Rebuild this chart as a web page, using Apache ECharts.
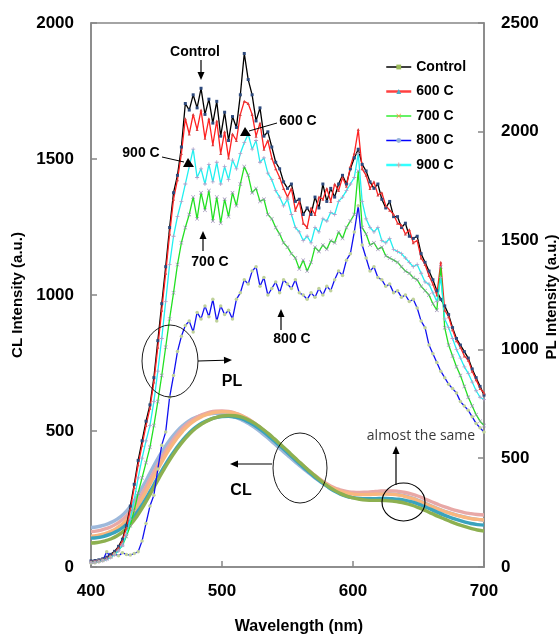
<!DOCTYPE html>
<html>
<head>
<meta charset="utf-8">
<script src="https://cdn.jsdelivr.net/npm/echarts@6/dist/echarts.min.js"></script>
<style>
html, body { margin: 0; padding: 0; background: #fff; }
#chart1 { width: 560px; height: 634px; }
</style>
</head>
<body>
<div id="chart1"></div>
<script>
// PL spectra (right axis), sampled every 3 nm
const plWave = [400, 403, 406, 409, 412, 415, 418, 421, 424, 427,
  430, 433, 436, 439, 442, 445, 448, 451, 454, 457,
  460, 463, 466, 469, 472, 475, 478, 481, 484, 487,
  490, 493, 496, 499, 502, 505, 508, 511, 514, 517,
  520, 523, 526, 529, 532, 535, 538, 541, 544, 547,
  550, 553, 556, 559, 562, 565, 568, 571, 574, 577,
  580, 583, 586, 589, 592, 595, 598, 601, 604, 607,
  610, 613, 616, 619, 622, 625, 628, 631, 634, 637,
  640, 643, 646, 649, 652, 655, 658, 661, 664, 667,
  670, 673, 676, 679, 682, 685, 688, 691, 694, 697,
  700];

const plControl = [28, 30, 33, 38, 45, 58, 72, 95, 128, 190,
  280, 380, 490, 580, 670, 745, 870, 1040, 1210, 1380,
  1560, 1720, 1800, 1930, 2130, 2100, 2170, 2110, 2200, 2080,
  2150, 2040, 2140, 1980, 2090, 1960, 2070, 2020, 2170, 2360,
  2240, 2170, 2050, 2110, 1980, 2000, 1930, 1860, 1830, 1770,
  1740, 1760, 1680, 1690, 1620, 1650, 1620, 1700, 1650, 1760,
  1680, 1740, 1700, 1760, 1800, 1760, 1830, 1880, 1920, 1850,
  1820, 1770, 1740, 1760, 1690, 1650, 1680, 1610, 1610, 1560,
  1580, 1520, 1510, 1520, 1440, 1400, 1360, 1320, 1270, 1230,
  1200, 1160, 1100, 1050, 1020, 990, 960, 910, 870, 830,
  790];

const pl600 = [25, 27, 30, 34, 40, 52, 66, 88, 120, 180,
  265, 365, 470, 560, 650, 730, 850, 1010, 1180, 1350,
  1530, 1690, 1780, 1900, 2060, 1990, 2080, 2010, 2100, 1970,
  2060, 1940, 2050, 1900, 2000, 1880, 1990, 1960, 2080, 2140,
  2130, 2080, 1980, 2040, 1920, 1960, 1880, 1830, 1790, 1740,
  1700, 1740, 1640, 1680, 1580, 1560, 1650, 1620, 1700, 1690,
  1740, 1680, 1760, 1730, 1790, 1750, 1840, 1900, 2010, 1830,
  1800, 1740, 1770, 1710, 1720, 1660, 1640, 1620, 1580, 1570,
  1530, 1550, 1490, 1500, 1420, 1390, 1340, 1300, 1250, 1400,
  1180, 1150, 1090, 1040, 1010, 970, 950, 900, 860, 820,
  800];

const pl700 = [22, 24, 27, 31, 37, 46, 58, 76, 100, 140,
  190, 260, 340, 410, 480, 550, 650, 760, 880, 1010,
  1140, 1260, 1390, 1490, 1560, 1620, 1700, 1600, 1720, 1640,
  1730, 1590, 1700, 1580, 1690, 1610, 1720, 1660, 1760, 1840,
  1800, 1720, 1740, 1680, 1690, 1620, 1600, 1560, 1530, 1490,
  1470, 1440, 1420, 1370, 1410, 1360, 1400, 1470, 1450, 1480,
  1460, 1500, 1490, 1540, 1510, 1560, 1590, 1620, 1820, 1560,
  1530, 1480, 1490, 1460, 1470, 1430, 1420, 1410, 1400, 1380,
  1360, 1350, 1330, 1320, 1290, 1270, 1250, 1210, 1180, 1380,
  1100, 1020, 970, 920, 880, 830, 780, 740, 700, 670,
  650];

const pl800 = [18, 20, 24, 30, 70, 45, 60, 52, 65, 58,
  55, 62, 70, 120, 200, 280, 330, 450, 560, 620,
  780, 880, 990, 1060, 1110, 1130, 1080, 1170, 1140, 1200,
  1150, 1230, 1130, 1200, 1160, 1180, 1140, 1230, 1260, 1320,
  1300, 1360, 1380, 1290, 1330, 1250, 1280, 1310, 1260, 1320,
  1300, 1280, 1320, 1260, 1250, 1230, 1260, 1240, 1280, 1250,
  1290, 1270, 1320, 1360, 1340, 1410, 1440, 1540, 1660, 1480,
  1420, 1360, 1380, 1330, 1320, 1290, 1300, 1260, 1270, 1240,
  1250, 1220, 1230, 1190, 1130, 1100, 1020, 980, 940, 900,
  870, 840, 820, 800, 760, 740, 720, 690, 660, 640,
  620];

const pl900 = [20, 22, 25, 29, 34, 44, 56, 75, 100, 150,
  220, 310, 410, 500, 580, 650, 760, 900, 1050, 1220,
  1390, 1520, 1610, 1680, 1760, 1840, 1920, 1790, 1830, 1760,
  1850, 1770, 1860, 1760, 1840, 1780, 1870, 1830, 1900, 1950,
  1990, 1920, 1960, 1860, 1880, 1810, 1780, 1730, 1700, 1660,
  1690, 1620, 1560, 1540, 1500, 1520, 1490, 1560, 1540, 1600,
  1590, 1630, 1620, 1680, 1700, 1730, 1760, 1790, 1900, 1680,
  1600, 1560, 1540, 1560, 1500, 1490, 1510, 1460, 1450, 1440,
  1420, 1400, 1380, 1390, 1350, 1310, 1300, 1260, 1220, 1330,
  1140, 1100, 1050, 1000, 960, 920, 890, 850, 810, 780,
  770];

// CL spectra (left axis), sampled every 5 nm
const clWave = [400, 405, 410, 415, 420, 425, 430, 435, 440, 445,
  450, 455, 460, 465, 470, 475, 480, 485, 490, 495,
  500, 505, 510, 515, 520, 525, 530, 535, 540, 545,
  550, 555, 560, 565, 570, 575, 580, 585, 590, 595,
  600, 605, 610, 615, 620, 625, 630, 635, 640, 645,
  650, 655, 660, 665, 670, 675, 680, 685, 690, 695,
  700];

const clA = [145, 148, 154, 163, 176, 195, 222, 258, 300, 345,
  390, 430, 466, 496, 520, 538, 550, 558, 563, 565,
  563, 558, 551, 541, 528, 512, 494, 474, 453, 432,
  411, 390, 370, 350, 331, 314, 299, 287, 279, 273,
  270, 268, 268, 269, 270, 270, 269, 266, 261, 254,
  245, 235, 224, 214, 205, 197, 190, 184, 179, 175,
  172];
const clB = [130, 133, 139, 147, 160, 178, 204, 238, 278, 322,
  367, 410, 448, 482, 510, 532, 548, 560, 568, 573,
  574, 572, 566, 557, 544, 528, 510, 490, 468, 446,
  424, 402, 381, 360, 340, 322, 306, 293, 284, 278,
  275, 274, 275, 277, 279, 280, 280, 278, 274, 268,
  260, 250, 240, 230, 221, 213, 206, 200, 196, 193,
  191];
const clC = [113, 116, 122, 131, 144, 162, 187, 220, 260, 304,
  350, 394, 434, 469, 499, 523, 541, 554, 563, 569,
  571, 570, 565, 556, 543, 527, 509, 489, 467, 445,
  423, 401, 380, 359, 339, 320, 303, 289, 279, 272,
  268, 266, 266, 267, 268, 268, 267, 264, 259, 252,
  243, 233, 223, 213, 204, 196, 189, 183, 178, 175,
  173];
const clD = [106, 108, 113, 121, 132, 148, 170, 200, 236, 277,
  320, 362, 401, 436, 467, 493, 514, 530, 541, 549,
  553, 554, 551, 545, 534, 520, 503, 484, 463, 442,
  420, 398, 376, 355, 334, 315, 297, 281, 269, 260,
  255, 252, 251, 251, 252, 252, 251, 249, 245, 239,
  231, 221, 211, 200, 190, 181, 173, 166, 160, 156,
  154];
const clE = [88, 90, 95, 103, 115, 132, 155, 186, 224, 266,
  310, 353, 393, 429, 461, 488, 510, 527, 540, 549,
  555, 557, 556, 551, 541, 528, 511, 492, 471, 449,
  427, 404, 382, 360, 339, 319, 300, 284, 271, 261,
  254, 249, 246, 245, 245, 244, 242, 239, 234, 227,
  218, 208, 197, 186, 176, 166, 157, 149, 142, 136,
  132];

const legendNames = ['Control', '600 C', '700 C', '800 C', '900 C'];
const xTicks = [400, 500, 600, 700];

const FONT = "'Liberation Sans', Arial, sans-serif";
const AXIS_GRAY = '#868686';
const SYM_PLUS = 'path://M4,0H6V4H10V6H6V10H4V6H0V4H4Z';
const SYM_X = 'path://M1,0L5,4L9,0L10,1L6,5L10,9L9,10L5,6L1,10L0,9L4,5L0,1Z';

function pairs(xs, ys) {
  return xs.map((x, i) => [x, ys[i]]);
}

function plSeries(name, ys, color, symbol, symColor, size) {
  return {
    name: name,
    type: 'line',
    yAxisIndex: 1,
    data: pairs(plWave, ys),
    symbol: symbol,
    symbolSize: size,
    showSymbol: true,
    lineStyle: { color: color, width: 1.3 },
    itemStyle: { color: symColor },
    emphasis: { disabled: true },
    z: 3
  };
}

function clSeries(name, ys, color) {
  return {
    name: name,
    type: 'line',
    yAxisIndex: 0,
    data: pairs(clWave, ys),
    smooth: true,
    symbol: 'none',
    lineStyle: { color: color, width: 3.4 },
    itemStyle: { color: color },
    emphasis: { disabled: true },
    z: 2
  };
}

// arrow line with a small filled head at (x2, y2)
function arrow(x1, y1, x2, y2) {
  const a = Math.atan2(y2 - y1, x2 - x1);
  const L = 8, W = 3.5;
  const bx = x2 - L * Math.cos(a), by = y2 - L * Math.sin(a);
  return [
    { type: 'line', z: 10, shape: { x1: x1, y1: y1, x2: bx, y2: by }, style: { stroke: '#000', lineWidth: 1.2 } },
    { type: 'polygon', z: 10, shape: { points: [[x2, y2], [bx - W * Math.sin(a), by + W * Math.cos(a)], [bx + W * Math.sin(a), by - W * Math.cos(a)]] }, style: { fill: '#000' } }
  ];
}

function ellipse(cx, cy, rx, ry) {
  return {
    type: 'circle', z: 10, x: cx, y: cy, scaleX: rx / ry,
    shape: { cx: 0, cy: 0, r: ry },
    style: { fill: 'none', stroke: '#000', lineWidth: 1, strokeNoScale: true }
  };
}

function label(text, x, y, size, bold, color) {
  return {
    type: 'text', z: 11, x: x, y: y,
    style: {
      text: text, fill: color || '#000', align: 'center', verticalAlign: 'middle',
      font: (bold ? 'bold ' : '') + size + 'px ' + (bold ? FONT : "'Open Sans', 'Noto Sans', sans-serif")
    }
  };
}

const graphics = [].concat(
  label('Control', 195, 52, 14, true),
  arrow(201, 60, 201, 80),
  label('600 C', 298, 121, 14, true),
  { type: 'line', z: 10, shape: { x1: 277, y1: 123, x2: 249, y2: 131 }, style: { stroke: '#000', lineWidth: 1 } },
  { type: 'polygon', z: 10, shape: { points: [[245, 127], [240, 136], [251, 136]] }, style: { fill: '#000' } },
  label('900 C', 141, 153, 14, true),
  { type: 'line', z: 10, shape: { x1: 162, y1: 157, x2: 184, y2: 162 }, style: { stroke: '#000', lineWidth: 1 } },
  { type: 'polygon', z: 10, shape: { points: [[188, 158], [183, 167], [194, 167]] }, style: { fill: '#000' } },
  label('700 C', 210, 262, 14, true),
  arrow(203, 251, 203, 231),
  label('800 C', 292, 339, 14, true),
  arrow(281, 330, 281, 309),
  ellipse(170, 361, 28, 36),
  arrow(198, 361, 232, 360),
  label('PL', 232, 382, 16, true),
  ellipse(300, 468, 27, 35),
  arrow(272, 464, 230, 464),
  label('CL', 241, 491, 16, true),
  label('almost the same', 421, 436, 14, false, '#3A3A3A'),
  arrow(396, 485, 396, 446),
  ellipse(403.5, 502, 21.5, 19),
  // right axis title, reading upward like the reference
  Object.assign(label('PL Intensity (a.u.)', 552, 297, 15, true), { rotation: Math.PI / 2 })
);

const plainNum = v => String(v);

const option = {
  animation: false,
  backgroundColor: '#fff',
  textStyle: { fontFamily: FONT },
  grid: {
    left: 91, right: 76, top: 23, bottom: 67,
    outerBoundsMode: 'none',
    containLabel: false,
    show: true, borderColor: AXIS_GRAY, borderWidth: 1.5, backgroundColor: 'transparent'
  },
  legend: {
    orient: 'vertical',
    left: 380,
    top: 54,
    itemWidth: 25,
    itemHeight: 6,
    itemGap: 8.5,
    selectedMode: false,
    textStyle: { fontFamily: FONT, fontWeight: 'bold', fontSize: 14, color: '#000', lineHeight: 16 },
    data: [
      { name: 'Control', itemStyle: { color: '#9BBB59' }, lineStyle: { color: '#000', width: 1.5 } },
      { name: '600 C', itemStyle: { color: '#4BACC6' }, lineStyle: { color: '#FF4040', width: 2.5 } },
      { name: '700 C', itemStyle: { color: '#F79646' }, lineStyle: { color: '#33EE33', width: 1.5 } },
      { name: '800 C', itemStyle: { color: '#95B3D7' }, lineStyle: { color: '#0000FF', width: 1.5 } },
      { name: '900 C', itemStyle: { color: '#E6A0A0' }, lineStyle: { color: '#33FFFF', width: 2.5 } }
    ]
  },
  xAxis: {
    type: 'value',
    min: xTicks[0],
    max: xTicks[xTicks.length - 1],
    interval: 100,
    name: 'Wavelength (nm)',
    nameLocation: 'middle',
    nameGap: 52,
    nameTextStyle: { fontFamily: FONT, fontWeight: 'bold', fontSize: 16, color: '#000', padding: [0, 0, 0, 23] },
    axisLine: { lineStyle: { color: AXIS_GRAY, width: 1.5 } },
    axisTick: { inside: true, length: 6, lineStyle: { color: AXIS_GRAY, width: 1.5 } },
    axisLabel: { margin: 16, fontFamily: FONT, fontWeight: 'bold', fontSize: 17, color: '#000', formatter: plainNum },
    splitLine: { show: false }
  },
  yAxis: [
    {
      type: 'value',
      min: 0, max: 2000, interval: 500,
      name: 'CL Intensity (a.u.)',
      nameLocation: 'middle',
      nameGap: 63,
      nameTextStyle: { fontFamily: FONT, fontWeight: 'bold', fontSize: 15, color: '#000' },
      axisLine: { show: true, lineStyle: { color: AXIS_GRAY, width: 1.5 } },
      axisTick: { show: true, inside: true, length: 6, lineStyle: { color: AXIS_GRAY, width: 1.5 } },
      axisLabel: { margin: 17, fontFamily: FONT, fontWeight: 'bold', fontSize: 17, color: '#000', formatter: plainNum },
      splitLine: { show: false }
    },
    {
      type: 'value',
      position: 'right',
      min: 0, max: 2500, interval: 500,
      axisLine: { show: true, lineStyle: { color: AXIS_GRAY, width: 1.5 } },
      axisTick: { show: true, inside: true, length: 6, lineStyle: { color: AXIS_GRAY, width: 1.5 } },
      axisLabel: { margin: 17, fontFamily: FONT, fontWeight: 'bold', fontSize: 17, color: '#000', formatter: plainNum },
      splitLine: { show: false }
    }
  ],
  series: [
    clSeries('CL a', clA, '#9DB8DB'),
    clSeries('CL b', clB, '#E8A8A6'),
    clSeries('CL c', clC, '#F9B67E'),
    clSeries('CL d', clD, '#3AA3BD'),
    clSeries('CL e', clE, '#8DB050'),
    plSeries(legendNames[0], plControl, '#000000', 'rect', '#2E4A7D', 3),
    plSeries(legendNames[1], pl600, '#FF2020', 'triangle', '#D84040', 3),
    plSeries(legendNames[2], pl700, '#22E022', SYM_X, '#9A8AB5', 4),
    plSeries(legendNames[3], pl800, '#1010F0', 'circle', '#BFD29A', 3.5),
    plSeries(legendNames[4], pl900, '#20F0F0', SYM_PLUS, '#B09FC9', 4)
  ],
  graphic: graphics
};

const mycharts = echarts.init(document.getElementById('chart1'));
mycharts.setOption(option);
</script>
</body>
</html>
